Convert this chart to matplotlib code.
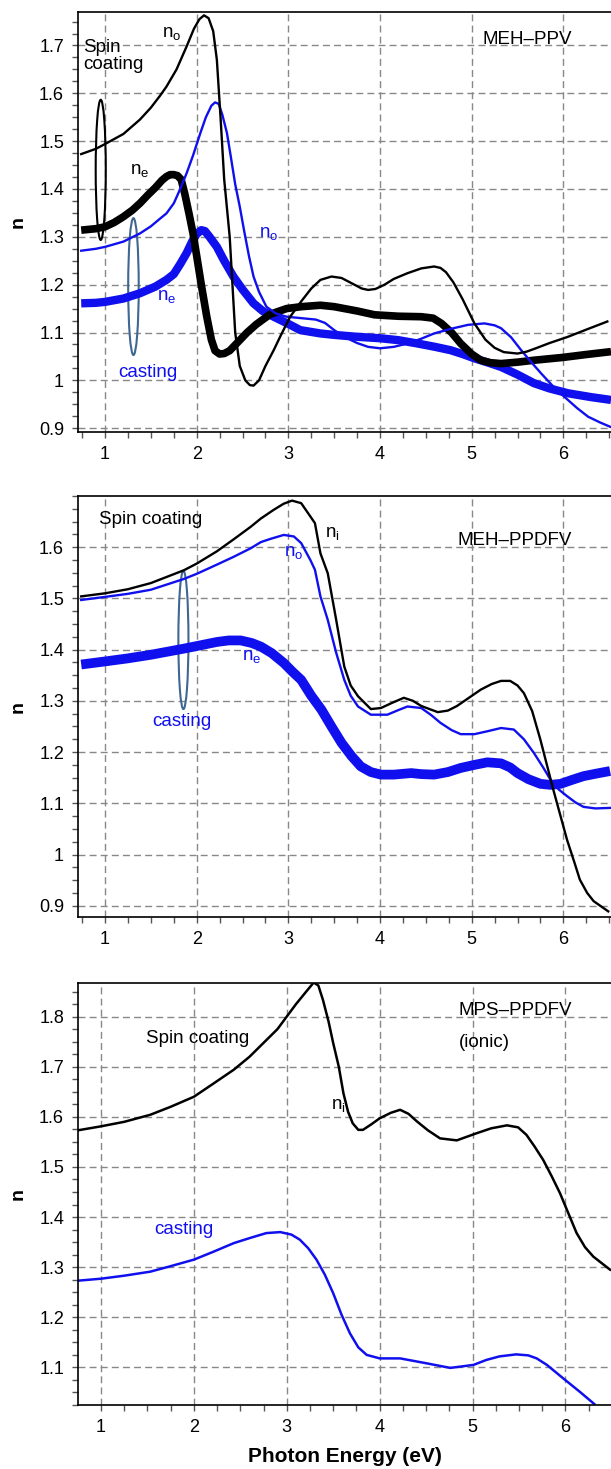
import matplotlib
matplotlib.use('Agg')
import matplotlib.pyplot as plt
from matplotlib.patches import Ellipse
from matplotlib.ticker import MultipleLocator

plt.rcParams['font.family'] = ['Liberation Sans', 'DejaVu Sans']
plt.rcParams['mathtext.default'] = 'regular'

BLUE = '#1010ee'
ELL = '#3f6791'

# ---- MEH-PPV (top) ----
ppv_no_spin_x = [0.74, 0.9, 1.0, 1.2, 1.38, 1.5, 1.6, 1.67, 1.78, 1.89, 1.97, 2.03, 2.08, 2.13, 2.18, 2.22, 2.26, 2.30, 2.36, 2.42,
                 2.47, 2.53, 2.58, 2.62, 2.68, 2.75, 2.84, 2.92, 3.02, 3.14, 3.25, 3.35, 3.47, 3.58, 3.70, 3.80, 3.87, 3.95, 4.05,
                 4.15, 4.30, 4.45, 4.59, 4.66, 4.72, 4.80, 4.90, 5.03, 5.15, 5.25, 5.35, 5.50, 5.60, 5.70, 5.85, 6.05, 6.25, 6.48]
ppv_no_spin_y = [1.473, 1.484, 1.494, 1.515, 1.545, 1.570, 1.595, 1.614, 1.650, 1.698, 1.735, 1.755, 1.763, 1.757, 1.730, 1.670, 1.550, 1.420, 1.300, 1.100,
                 1.030, 1.000, 0.990, 0.989, 1.000, 1.030, 1.063, 1.095, 1.133, 1.165, 1.192, 1.210, 1.217, 1.214, 1.202, 1.192, 1.189, 1.191, 1.200,
                 1.212, 1.224, 1.234, 1.238, 1.235, 1.226, 1.205, 1.170, 1.119, 1.085, 1.068, 1.059, 1.056, 1.060, 1.067, 1.078, 1.091, 1.106, 1.123]

ppv_ne_spin_x = [0.74, 0.9, 1.0, 1.1, 1.2, 1.3, 1.38, 1.47, 1.55, 1.62, 1.67, 1.71, 1.75, 1.79, 1.83, 1.87, 1.92, 1.96, 2.0, 2.05,
                 2.11, 2.16, 2.2, 2.25, 2.3, 2.36, 2.45, 2.55, 2.65, 2.8, 2.98, 3.14, 3.35, 3.5, 3.75, 3.94, 4.2, 4.45, 4.58, 4.67,
                 4.78, 4.88, 5.0, 5.1, 5.2, 5.32, 5.5, 5.68, 6.0, 6.25, 6.52]
ppv_ne_spin_y = [1.314, 1.317, 1.321, 1.330, 1.342, 1.356, 1.370, 1.388, 1.403, 1.418, 1.426, 1.430, 1.430, 1.428, 1.420, 1.390, 1.345, 1.307, 1.260, 1.200,
                 1.133, 1.085, 1.062, 1.055, 1.056, 1.062, 1.080, 1.100, 1.117, 1.138, 1.150, 1.154, 1.157, 1.154, 1.145, 1.137, 1.134, 1.133, 1.130, 1.119,
                 1.100, 1.077, 1.055, 1.042, 1.037, 1.035, 1.038, 1.042, 1.048, 1.054, 1.060]

ppv_no_cast_x = [0.74, 0.9, 1.0, 1.2, 1.38, 1.5, 1.6, 1.67, 1.75, 1.82, 1.89, 1.96, 2.04, 2.10, 2.16, 2.20, 2.24, 2.28, 2.33, 2.37,
                 2.42, 2.47, 2.52, 2.57, 2.62, 2.68, 2.76, 2.86, 2.98, 3.14, 3.30, 3.40, 3.50, 3.60, 3.75, 3.87, 4.0, 4.15, 4.3, 4.45,
                 4.59, 4.78, 4.96, 5.14, 5.25, 5.32, 5.43, 5.54, 5.65, 5.76, 5.9, 6.05, 6.15, 6.27, 6.4, 6.51]
ppv_no_cast_y = [1.271, 1.275, 1.279, 1.290, 1.307, 1.322, 1.338, 1.349, 1.370, 1.400, 1.433, 1.470, 1.517, 1.550, 1.574, 1.581, 1.578, 1.555, 1.517, 1.470,
                 1.410, 1.363, 1.310, 1.260, 1.217, 1.185, 1.154, 1.140, 1.133, 1.130, 1.127, 1.120, 1.105, 1.092, 1.078, 1.070, 1.067, 1.070, 1.077, 1.087,
                 1.098, 1.108, 1.116, 1.119, 1.115, 1.109, 1.090, 1.063, 1.038, 1.014, 0.985, 0.959, 0.942, 0.924, 0.912, 0.903]

ppv_ne_cast_x = [0.74, 0.9, 1.0, 1.2, 1.38, 1.55, 1.67, 1.75, 1.82, 1.89, 1.95, 2.0, 2.05, 2.09, 2.14, 2.22, 2.30, 2.40, 2.50, 2.62,
                 2.72, 2.84, 3.0, 3.13, 3.35, 3.5, 3.75, 4.0, 4.2, 4.41, 4.6, 4.77, 4.9, 5.03, 5.18, 5.32, 5.5, 5.68, 5.85, 6.05,
                 6.3, 6.52]
ppv_ne_cast_y = [1.161, 1.162, 1.164, 1.171, 1.182, 1.196, 1.210, 1.222, 1.243, 1.266, 1.290, 1.306, 1.314, 1.312, 1.300, 1.279, 1.250, 1.217, 1.190, 1.161,
                 1.145, 1.133, 1.118, 1.105, 1.098, 1.095, 1.091, 1.088, 1.084, 1.077, 1.070, 1.063, 1.055, 1.046, 1.037, 1.028, 1.012, 0.994, 0.983, 0.973,
                 0.965, 0.959]

# ---- MEH-PPDFV (middle) ----
ppdfv_ni_x = [0.74, 1.0, 1.25, 1.5, 1.86, 2.0, 2.22, 2.4, 2.59, 2.7, 2.84, 2.95, 3.04, 3.14, 3.24, 3.29, 3.35, 3.43, 3.52, 3.61,
              3.68, 3.76, 3.90, 4.01, 4.13, 4.26, 4.36, 4.45, 4.63, 4.74, 4.84, 4.97, 5.10, 5.22, 5.32, 5.42, 5.50, 5.57, 5.66, 5.75,
              5.89, 6.04, 6.12, 6.18, 6.26, 6.33, 6.49]
ppdfv_ni_y = [1.504, 1.510, 1.518, 1.530, 1.555, 1.568, 1.592, 1.615, 1.640, 1.656, 1.673, 1.685, 1.691, 1.686, 1.660, 1.647, 1.588, 1.549, 1.460, 1.367,
              1.330, 1.309, 1.284, 1.286, 1.296, 1.306, 1.300, 1.290, 1.278, 1.281, 1.290, 1.306, 1.322, 1.333, 1.339, 1.339, 1.330, 1.315, 1.280, 1.224,
              1.127, 1.029, 0.985, 0.951, 0.925, 0.909, 0.889]

ppdfv_no_x = [0.74, 1.0, 1.25, 1.5, 1.86, 2.0, 2.22, 2.4, 2.59, 2.7, 2.80, 2.95, 3.06, 3.14, 3.24, 3.29, 3.35, 3.43, 3.52, 3.61,
              3.68, 3.76, 3.90, 4.08, 4.20, 4.30, 4.45, 4.56, 4.66, 4.78, 4.88, 5.03, 5.18, 5.32, 5.46, 5.57, 5.68, 5.78, 5.86, 5.95,
              6.04, 6.13, 6.22, 6.35, 6.51]
ppdfv_no_y = [1.497, 1.503, 1.509, 1.517, 1.538, 1.548, 1.566, 1.581, 1.598, 1.610, 1.616, 1.624, 1.621, 1.608, 1.575, 1.556, 1.504, 1.458, 1.395, 1.341,
              1.310, 1.289, 1.273, 1.273, 1.282, 1.289, 1.286, 1.272, 1.257, 1.243, 1.235, 1.235, 1.241, 1.247, 1.244, 1.225, 1.198, 1.170, 1.146, 1.127,
              1.114, 1.102, 1.093, 1.090, 1.091]

ppdfv_ne_x = [0.74, 1.0, 1.25, 1.5, 1.86, 2.0, 2.22, 2.35, 2.48, 2.6, 2.70, 2.82, 2.95, 3.05, 3.14, 3.25, 3.36, 3.47, 3.58, 3.69,
              3.79, 3.90, 4.01, 4.15, 4.34, 4.45, 4.59, 4.74, 4.88, 5.03, 5.17, 5.32, 5.42, 5.50, 5.62, 5.75, 5.86, 5.97, 6.10, 6.22,
              6.36, 6.51]
ppdfv_ne_y = [1.371, 1.377, 1.383, 1.390, 1.402, 1.407, 1.415, 1.418, 1.418, 1.413, 1.406, 1.393, 1.374, 1.356, 1.341, 1.310, 1.283, 1.250, 1.218, 1.192,
              1.172, 1.161, 1.156, 1.156, 1.159, 1.157, 1.156, 1.161, 1.169, 1.175, 1.180, 1.178, 1.170, 1.159, 1.147, 1.138, 1.136, 1.138, 1.146, 1.153,
              1.158, 1.163]

# ---- MPS-PPDFV ionic (bottom) ----
mps_spin_x = [0.75, 1.0, 1.25, 1.53, 1.75, 2.0, 2.2, 2.43, 2.6, 2.78, 2.9, 3.0, 3.1, 3.21, 3.29, 3.34, 3.39, 3.45, 3.50, 3.56,
              3.61, 3.66, 3.71, 3.77, 3.82, 3.91, 4.0, 4.12, 4.22, 4.31, 4.40, 4.52, 4.65, 4.83, 5.04, 5.20, 5.37, 5.49, 5.58, 5.67,
              5.76, 5.85, 5.94, 6.03, 6.12, 6.21, 6.30, 6.48]
mps_spin_y = [1.573, 1.581, 1.590, 1.604, 1.620, 1.640, 1.665, 1.694, 1.720, 1.753, 1.775, 1.800, 1.825, 1.850, 1.868, 1.862, 1.833, 1.790, 1.747, 1.700,
              1.647, 1.610, 1.587, 1.574, 1.574, 1.585, 1.597, 1.608, 1.614, 1.606, 1.591, 1.573, 1.557, 1.553, 1.567, 1.577, 1.583, 1.579, 1.564, 1.540,
              1.514, 1.482, 1.448, 1.408, 1.368, 1.340, 1.321, 1.295]

mps_cast_x = [0.75, 1.0, 1.25, 1.53, 1.75, 2.0, 2.2, 2.43, 2.6, 2.78, 2.93, 3.05, 3.14, 3.23, 3.32, 3.41, 3.50, 3.59, 3.68, 3.77,
              3.86, 4.0, 4.22, 4.51, 4.76, 5.01, 5.15, 5.29, 5.47, 5.60, 5.69, 5.80, 5.97, 6.15, 6.31]
mps_cast_y = [1.273, 1.277, 1.283, 1.291, 1.302, 1.315, 1.330, 1.348, 1.358, 1.368, 1.370, 1.365, 1.355, 1.338, 1.315, 1.285, 1.248, 1.205, 1.168, 1.140,
              1.125, 1.118, 1.118, 1.108, 1.099, 1.105, 1.115, 1.122, 1.126, 1.124, 1.118, 1.105, 1.079, 1.052, 1.027]

W, H = 611, 1469
fig = plt.figure(figsize=(W / 100, H / 100), dpi=100)


def make_axes(top_px, bottom_px, xlim, ylim, yticks):
    ax = fig.add_axes([78 / W, 1 - bottom_px / H, 1 - 78 / W, (bottom_px - top_px) / H])
    ax.set_xlim(*xlim)
    ax.set_ylim(*ylim)
    ax.set_xticks([1, 2, 3, 4, 5, 6])
    ax.set_xticklabels(['1', '2', '3', '4', '5', '6'])
    ax.set_yticks(yticks)
    ax.set_yticklabels([f'{t:g}' for t in yticks])
    ax.xaxis.set_minor_locator(MultipleLocator(0.25))
    ax.yaxis.set_minor_locator(MultipleLocator(0.025))
    ax.tick_params(which='both', direction='out', length=4, width=1, color='#555555',
                   labelsize=13, pad=6, top=False, right=False)
    ax.grid(True, which='major', linestyle=(0, (5, 3)), color='#888888', linewidth=1)
    ax.set_axisbelow(True)
    ax.spines['right'].set_visible(False)
    for s in ['left', 'bottom', 'top']:
        ax.spines[s].set_linewidth(1.2)
    ax.set_ylabel('n', fontsize=14, fontweight='bold', labelpad=9)
    return ax


# top panel
ax1 = make_axes(12, 432, (0.705, 6.52), (0.892, 1.77), [0.9, 1, 1.1, 1.2, 1.3, 1.4, 1.5, 1.6, 1.7])
ax1.plot(ppv_ne_cast_x, ppv_ne_cast_y, color=BLUE, lw=6, solid_capstyle='butt')
ax1.plot(ppv_ne_spin_x, ppv_ne_spin_y, color='black', lw=5.5, solid_capstyle='butt')
ax1.plot(ppv_no_cast_x, ppv_no_cast_y, color=BLUE, lw=1.7)
ax1.plot(ppv_no_spin_x, ppv_no_spin_y, color='black', lw=1.7)
ax1.add_patch(Ellipse((0.953, 1.44), 0.11, 0.293, fill=False, edgecolor='black', lw=1.5))
ax1.add_patch(Ellipse((1.31, 1.196), 0.115, 0.286, fill=False, edgecolor=ELL, lw=1.5))
ax1.text(0.765, 1.678, 'Spin\ncoating', fontsize=13.5, va='center', ha='left', linespacing=1.05)
ax1.text(1.47, 1.017, 'casting', fontsize=13.5, color=BLUE, ha='center', va='center')
ax1.text(1.62, 1.725, 'n$_{o}$', fontsize=13.5, ha='left', va='center')
ax1.text(1.27, 1.438, 'n$_{e}$', fontsize=13.5, ha='left', va='center')
ax1.text(2.68, 1.306, 'n$_{o}$', fontsize=13.5, color=BLUE, ha='left', va='center')
ax1.text(1.57, 1.175, 'n$_{e}$', fontsize=13.5, color=BLUE, ha='left', va='center')
ax1.text(5.12, 1.712, 'MEH\u2012PPV', fontsize=13.5, ha='left', va='center')

# middle panel
ax2 = make_axes(496, 917, (0.705, 6.52), (0.878, 1.70), [0.9, 1, 1.1, 1.2, 1.3, 1.4, 1.5, 1.6])
ax2.plot(ppdfv_ne_x, ppdfv_ne_y, color=BLUE, lw=7, solid_capstyle='butt')
ax2.plot(ppdfv_no_x, ppdfv_no_y, color=BLUE, lw=1.7)
ax2.plot(ppdfv_ni_x, ppdfv_ni_y, color='black', lw=1.7)
ax2.add_patch(Ellipse((1.855, 1.419), 0.11, 0.27, fill=False, edgecolor=ELL, lw=1.5))
ax2.text(0.93, 1.655, 'Spin coating', fontsize=13.5, ha='left', va='center')
ax2.text(1.84, 1.26, 'casting', fontsize=13.5, color=BLUE, ha='center', va='center')
ax2.text(2.95, 1.59, 'n$_{o}$', fontsize=13.5, color=BLUE, ha='left', va='center')
ax2.text(2.49, 1.386, 'n$_{e}$', fontsize=13.5, color=BLUE, ha='left', va='center')
ax2.text(3.40, 1.626, 'n$_{i}$', fontsize=13.5, ha='left', va='center')
ax2.text(4.84, 1.614, 'MEH\u2012PPDFV', fontsize=13.5, ha='left', va='center')

# bottom panel
ax3 = make_axes(983, 1405, (0.753, 6.49), (1.025, 1.867), [1.1, 1.2, 1.3, 1.4, 1.5, 1.6, 1.7, 1.8])
ax3.plot(mps_spin_x, mps_spin_y, color='black', lw=1.8)
ax3.plot(mps_cast_x, mps_cast_y, color=BLUE, lw=1.8)
ax3.text(1.48, 1.757, 'Spin coating', fontsize=13.5, ha='left', va='center')
ax3.text(1.57, 1.376, 'casting', fontsize=13.5, color=BLUE, ha='left', va='center')
ax3.text(3.48, 1.622, 'n$_{i}$', fontsize=13.5, ha='left', va='center')
ax3.text(4.85, 1.813, 'MPS\u2012PPDFV', fontsize=13.5, ha='left', va='center')
ax3.text(4.85, 1.748, '(ionic)', fontsize=13.5, ha='left', va='center')
ax3.set_xlabel('Photon Energy (eV)', fontsize=15, fontweight='bold', labelpad=8)

fig.savefig('out.png', dpi=100)
